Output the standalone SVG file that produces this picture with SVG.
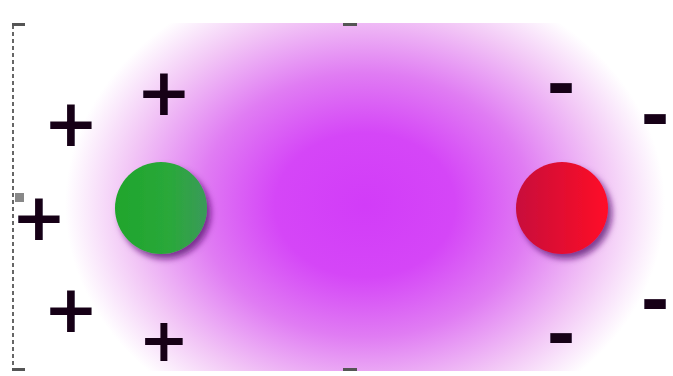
<svg xmlns="http://www.w3.org/2000/svg" width="673" height="376" viewBox="0 0 673 376">
<defs>
<radialGradient id="glow" cx="365" cy="205" r="300" gradientUnits="userSpaceOnUse" gradientTransform="translate(365 205) scale(1 0.8) translate(-365 -205)">
<stop offset="0" stop-color="#d23cf8"/>
<stop offset="0.3" stop-color="#d546f7"/>
<stop offset="0.55" stop-color="#e07cf3"/>
<stop offset="0.8" stop-color="#f2c6f6"/>
<stop offset="1" stop-color="#ffffff"/>
</radialGradient>
<linearGradient id="gGreen" x1="0" y1="0" x2="1" y2="0">
<stop offset="0" stop-color="#1fa52c"/>
<stop offset="0.6" stop-color="#2aa83a"/>
<stop offset="1" stop-color="#3a9a5a"/>
</linearGradient>
<linearGradient id="gRed" x1="0" y1="0" x2="1" y2="0">
<stop offset="0" stop-color="#c8103c"/>
<stop offset="0.6" stop-color="#e8102e"/>
<stop offset="1" stop-color="#ff0828"/>
</linearGradient>
<filter id="shadow" x="-30%" y="-30%" width="170%" height="170%">
<feDropShadow dx="4" dy="5" stdDeviation="3" flood-color="#5a1470" flood-opacity="0.75"/>
</filter>
<filter id="soft"><feGaussianBlur stdDeviation="0.6"/></filter>
</defs>
<style>
.sign{font-family:"DejaVu Sans",sans-serif;font-weight:bold;fill:#140618;text-anchor:middle;}
.plus{font-size:66px;}
.minus{font-size:70px;}
.handle{fill:#555;}
</style>
<rect width="673" height="376" fill="#ffffff"/>
<rect x="13" y="23" width="660" height="348" fill="url(#glow)"/>
<g id="frame">
<line x1="13" y1="25" x2="13" y2="370" stroke="#666" stroke-width="2" stroke-dasharray="4 3"/>
<rect x="12" y="23" width="13" height="3" class="handle"/>
<rect x="12" y="368" width="13" height="3" class="handle"/>
<rect x="343" y="23" width="14" height="3" class="handle" filter="url(#soft)"/>
<rect x="343" y="368" width="14" height="3" class="handle" filter="url(#soft)"/>
<rect x="15" y="193" width="9" height="9" fill="#888"/>
</g>
<g id="positive-charge">
<circle cx="161" cy="208" r="46" fill="url(#gGreen)" filter="url(#shadow)"/>
</g>
<g id="negative-charge">
<circle cx="562" cy="208" r="46" fill="url(#gRed)" filter="url(#shadow)"/>
</g>
<g id="plus-signs" filter="url(#soft)">
<text class="sign plus" x="71" y="146">+</text>
<text class="sign plus" x="164" y="115">+</text>
<text class="sign plus" x="39" y="240">+</text>
<text class="sign plus" x="71" y="332">+</text>
<text class="sign plus" x="164" y="361" style="font-size:60px">+</text>
</g>
<g id="minus-signs" filter="url(#soft)">
<text class="sign minus" x="561" y="108">-</text>
<text class="sign minus" x="655" y="139">-</text>
<text class="sign minus" x="655" y="324">-</text>
<text class="sign minus" x="561" y="358">-</text>
</g>
</svg>
